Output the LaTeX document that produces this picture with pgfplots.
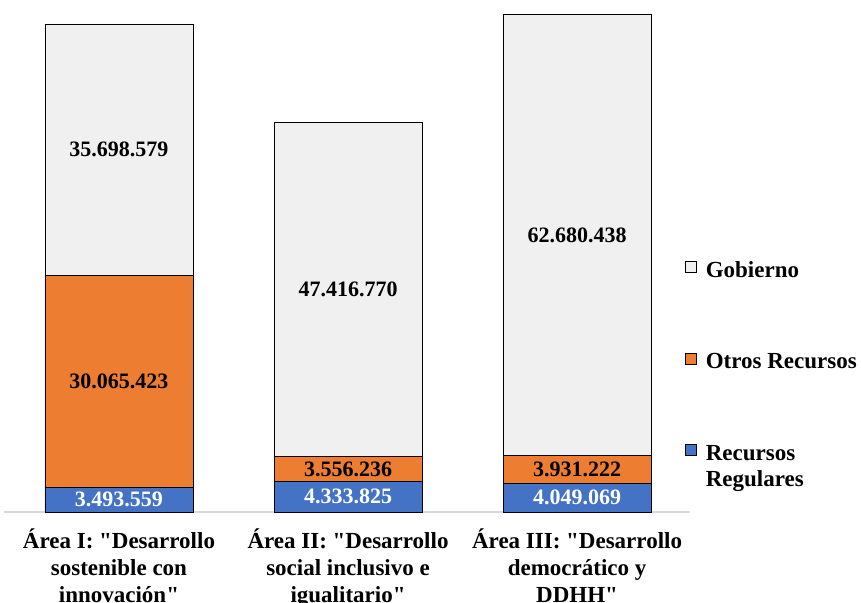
\documentclass[border=0pt]{standalone}
\usepackage{fontspec}
\setmainfont{Liberation Serif}[Ligatures=TeXOff]
\usepackage{pgfplots}
\pgfplotsset{compat=1.18}
\definecolor{cblue}{HTML}{4472C4}
\definecolor{corange}{HTML}{ED7D31}
\definecolor{cgray}{HTML}{F0F0F0}
\definecolor{cline}{HTML}{D9D9D9}
\newcommand{\bigf}{\fontsize{22}{26.5}\selectfont\bfseries}
\newcommand{\legf}{\fontsize{23}{26.5}\selectfont\bfseries}
\newcommand{\tickf}{\fontsize{23}{27}\selectfont\bfseries}
\pgfplotsset{
  sq legend/.style={legend image code/.code={\draw[##1,draw=black,line width=0.6pt] (0pt,0pt) rectangle (11pt,11pt);}},
  common/.style={at={(0,0)}, anchor=south west, scale only axis, width=686pt, height=498pt,
    ymin=0, ymax=70660729, xmin=-0.502, xmax=2.493},
}
\begin{document}
\begin{tikzpicture}
\useasboundingbox (-4pt,-90pt) rectangle (857pt,512pt);
\begin{axis}[common,
  ybar stacked, bar width=148pt,
  axis x line=bottom, axis y line=none,
  x axis line style={-,draw=cline,line width=1.2pt},
  xtick={0,1,2}, xtick style={draw=none}, ytick=\empty,
  xticklabels={{Área I: "Desarrollo\\sostenible con\\innovación"},{Área II: "Desarrollo\\social inclusivo e\\igualitario"},{Área III: "Desarrollo\\democrático y\\DDHH"}},
  xticklabel style={font=\tickf, align=center, anchor=north, yshift=-11pt},
  reverse legend,
  legend cell align=left,
  legend style={draw=none, fill=none, at={(0.99271,0.504)}, anchor=north west, inner sep=0pt,
    row sep=70pt, column sep=9pt, font=\legf,
    nodes={inner sep=0pt, text height=15pt, text depth=5pt}},
]
\addplot[fill=cblue, draw=black, line width=0.7pt, sq legend] coordinates {(0,3493559) (1,4333825) (2,4049069)};
\addlegendentry{\begin{tabular}[t]{@{}l@{}}Recursos\\Regulares\end{tabular}}
\addplot[fill=corange, draw=black, line width=0.7pt, sq legend] coordinates {(0,30065423) (1,3556236) (2,3931222)};
\addlegendentry{Otros Recursos}
\addplot[fill=cgray, draw=black, line width=0.7pt, sq legend] coordinates {(0,35698579) (1,47416770) (2,62680438)};
\addlegendentry{Gobierno}
\end{axis}
\begin{axis}[common, hide axis,
  nodes near coords, point meta=explicit symbolic,
  every node near coord/.append style={anchor=center, font=\bigf, inner sep=0pt}]
\addplot[only marks, mark=none, nodes near coords style={text=white}] table[meta=lab] {
x y lab
0 1746780 3.493.559
1 2166912 4.333.825
2 2024535 4.049.069
};
\addplot[only marks, mark=none, nodes near coords style={text=black}] table[meta=lab] {
x y lab
0 18526270 30.065.423
1 6111943 3.556.236
2 6014680 3.931.222
0 51408272 35.698.579
1 31598446 47.416.770
2 39320510 62.680.438
};
\end{axis}
\end{tikzpicture}
\end{document}
